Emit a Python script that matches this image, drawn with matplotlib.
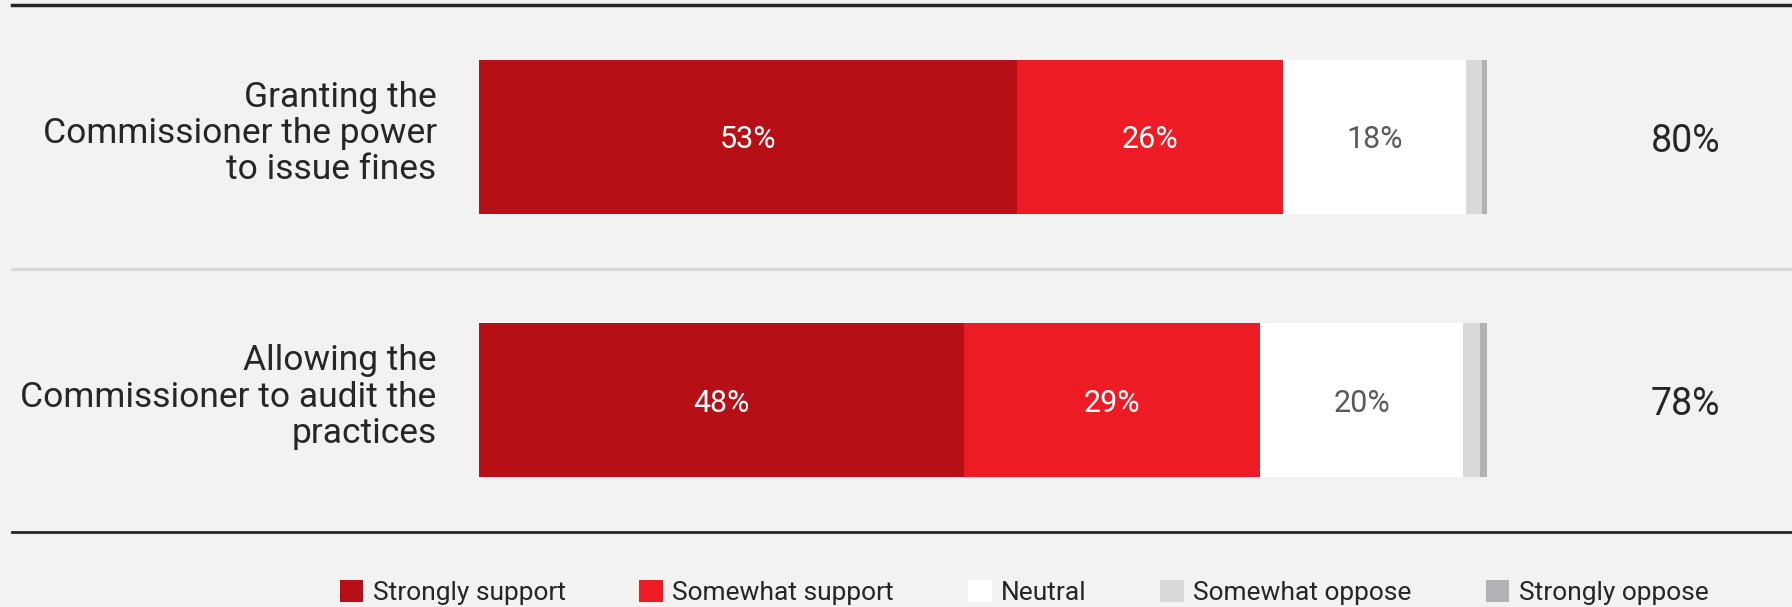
import matplotlib
matplotlib.use("Agg")
import matplotlib.pyplot as plt
from matplotlib.patches import Patch
from matplotlib.lines import Line2D
from matplotlib.transforms import blended_transform_factory

plt.rcParams['font.family'] = ['Roboto', 'DejaVu Sans']

# --- data ---
questions = ["Granting the\nCommissioner the power\nto issue fines",
             "Allowing the\nCommissioner to audit the\npractices"]
categories = ["Strongly support", "Somewhat support", "Neutral",
              "Somewhat oppose", "Strongly oppose"]
strongly_support = [53.4, 48.1]
somewhat_support = [26.4, 29.4]
neutral = [18.1, 20.1]
somewhat_oppose = [1.6, 1.7]
strongly_oppose = [0.5, 0.7]
net_support = ["80%", "78%"]

colors = ["#b70f16", "#ed1c24", "#ffffff", "#d9d9d9", "#b1b1b6"]
label_colors = ["white", "white", "#595959", None, None]
BG = "#f2f2f2"

W, H = 1792, 607
fig = plt.figure(figsize=(W / 100, H / 100), dpi=100, facecolor=BG)
ax = fig.add_axes([479 / W, 1 - 532 / H, 1008 / W, 527 / H])
ax.set_facecolor(BG)
ax.set_xlim(0, 100)
ax.set_ylim(1.5, -0.5)
ax.axis("off")

series = [strongly_support, somewhat_support, neutral, somewhat_oppose, strongly_oppose]
ypos = list(range(len(questions)))
left = [0.0] * len(questions)
for vals, col, tcol in zip(series, colors, label_colors):
    ax.barh(ypos, vals, left=left, height=0.585, color=col, edgecolor="none")
    if tcol:
        for y, l, v in zip(ypos, left, vals):
            ax.text(l + v / 2, y + 0.012, f"{round(v)}%", ha="center", va="center",
                    fontsize=22, color=tcol)
    left = [l + v for l, v in zip(left, vals)]

side = blended_transform_factory(ax.transAxes, ax.transData)
for y, q, tot in zip(ypos, questions, net_support):
    ax.text(-0.042, y - 0.012, q, transform=side, ha="right", va="center",
            fontsize=25.5, color="#262626", linespacing=1.12)
    ax.text(1.197, y + 0.017, tot, transform=side, ha="center", va="center",
            fontsize=27, color="#262626")

# horizontal rules spanning the figure
tr = blended_transform_factory(fig.transFigure, ax.transData)
fig.add_artist(Line2D([12 / W, 1], [-0.5, -0.5], transform=tr, color="#262626", lw=2.5))
fig.add_artist(Line2D([12 / W, 1], [0.5, 0.5], transform=tr, color="#d9d9d9", lw=2.2))
fig.add_artist(Line2D([12 / W, 1], [1.5, 1.5], transform=tr, color="#262626", lw=2))

handles = [Patch(facecolor=c, edgecolor="none") for c in colors]
fig.legend(handles, categories, loc="center", bbox_to_anchor=(0.5714, 0.024), ncol=5,
           frameon=False, fontsize=19, handlelength=0.9, handleheight=0.9,
           handletextpad=0.35, columnspacing=2.8, labelcolor="#262626")

fig.savefig("out.png", dpi=100, facecolor=BG)
